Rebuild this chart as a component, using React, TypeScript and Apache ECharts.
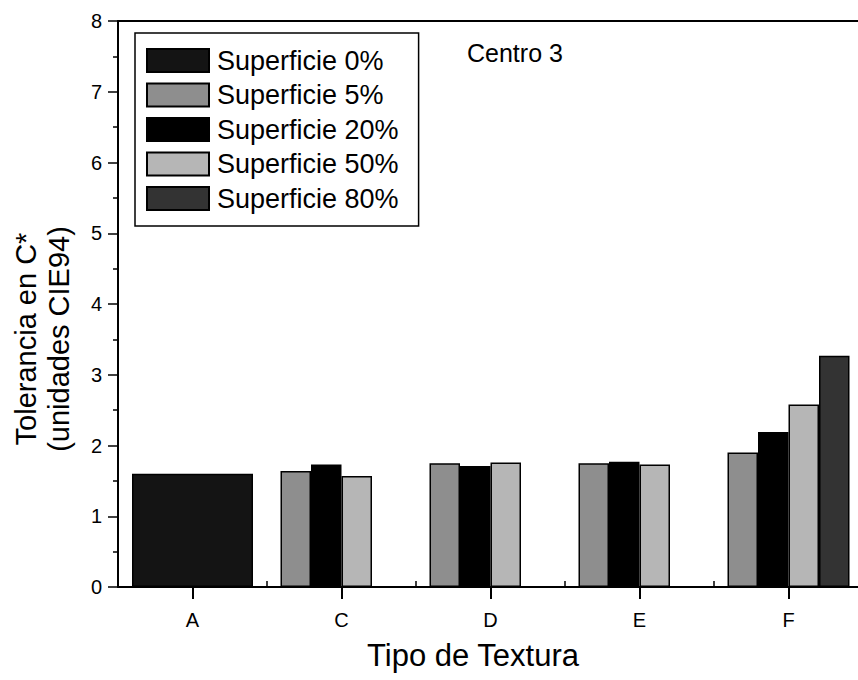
import React, { useEffect, useRef } from "react";
import * as echarts from "echarts";

const categories = ["A", "C", "D", "E", "F"];
const seriesNames = ["Superficie 0%", "Superficie 5%", "Superficie 20%", "Superficie 50%", "Superficie 80%"];
const sup0 = [1.6, null, null, null, null];
const sup5 = [null, 1.64, 1.75, 1.75, 1.9];
const sup20 = [null, 1.73, 1.71, 1.77, 2.19];
const sup50 = [null, 1.57, 1.76, 1.73, 2.58];
const sup80 = [null, null, null, null, 3.27];
const yTicks = { min: 0, max: 8, interval: 1 };
const colors = ["#141414", "#8e8e8e", "#000000", "#b6b6b6", "#333333"];

const FONT = "Liberation Sans, Arial, sans-serif";

export default function App() {
  const ref = useRef<HTMLDivElement>(null);
  useEffect(() => {
    if (!ref.current) return;
    const chart = echarts.init(ref.current, null, { renderer: "svg" });
    const barStyle = (c: string) => ({ color: c, borderColor: "#000", borderWidth: 1.5 });
    const groupData = [sup5, sup20, sup50, sup80];
    chart.setOption({
      animation: false,
      backgroundColor: "#fff",
      textStyle: { fontFamily: FONT, color: "#000" },
      grid: {
        left: 118,
        top: 21,
        height: 566,
        width: 745,
        containLabel: false,
        outerBoundsMode: "none",
        show: false,
      },
      legend: {
        orient: "vertical",
        left: 135,
        top: 33,
        padding: [14, 20, 14, 11],
        itemWidth: 62,
        itemHeight: 23,
        itemGap: 7.5,
        icon: "rect",
        borderColor: "#000",
        borderWidth: 1.5,
        data: seriesNames,
        textStyle: { fontSize: 27, color: "#000", fontFamily: FONT, padding: [0, 0, 0, 3] },
      },
      xAxis: [
        {
          type: "category",
          data: categories,
          position: "bottom",
          axisLine: { show: true, lineStyle: { color: "#000", width: 2 } },
          axisTick: { show: true, alignWithLabel: true, inside: false, length: 12, lineStyle: { color: "#000", width: 2 } },
          axisLabel: { fontSize: 20, color: "#000", margin: 23, fontFamily: FONT },
          splitLine: { show: false },
        },
        {
          type: "category",
          data: categories,
          position: "bottom",
          axisLine: { show: false },
          axisTick: { show: true, inside: true, length: 6, lineStyle: { color: "#000", width: 1.5 } },
          axisLabel: { show: false },
          splitLine: { show: false },
        },
        {
          type: "category",
          data: categories,
          position: "top",
          axisLine: { show: true, lineStyle: { color: "#000", width: 2 } },
          axisTick: { show: false },
          axisLabel: { show: false },
          splitLine: { show: false },
        },
      ],
      yAxis: {
        type: "value",
        min: yTicks.min,
        max: yTicks.max,
        interval: yTicks.interval,
        axisLine: { show: true, lineStyle: { color: "#000", width: 2 } },
        axisTick: { show: true, inside: false, length: 10, lineStyle: { color: "#000", width: 1.5 } },
        minorTick: { show: true, splitNumber: 2, length: 5, lineStyle: { color: "#000", width: 1.5 } },
        axisLabel: { fontSize: 20, color: "#000", margin: 16, fontFamily: FONT },
        splitLine: { show: false },
      },
      series: [
        {
          name: seriesNames[0],
          type: "bar",
          xAxisIndex: 0,
          data: sup0,
          barWidth: 121,
          itemStyle: barStyle(colors[0]),
        },
        ...groupData.map((d, i) => ({
          name: seriesNames[i + 1],
          type: "bar",
          xAxisIndex: 1,
          data: d,
          barWidth: 30.5,
          barGap: "0%",
          itemStyle: barStyle(colors[i + 1]),
        })),
      ],
      graphic: [
        {
          type: "text",
          x: 467,
          y: 53,
          style: { text: "Centro 3", fontSize: 25, fontFamily: FONT, fill: "#000", align: "left", verticalAlign: "middle" },
        },
        {
          type: "text",
          x: 473,
          y: 655,
          style: { text: "Tipo de Textura", fontSize: 31, fontFamily: FONT, fill: "#000", align: "center", verticalAlign: "middle" },
        },
        {
          type: "text",
          x: 42,
          y: 339,
          rotation: Math.PI / 2,
          style: {
            text: "Tolerancia en C*\n(unidades CIE94)",
            fontSize: 29,
            lineHeight: 33,
            fontFamily: FONT,
            fill: "#000",
            align: "center",
            verticalAlign: "middle",
          },
        },
      ],
    });
    return () => chart.dispose();
  }, []);
  return (
    <div
      ref={ref}
      style={{ position: "fixed", left: 0, top: 0, width: 858, height: 680, background: "#fff" }}
    />
  );
}
